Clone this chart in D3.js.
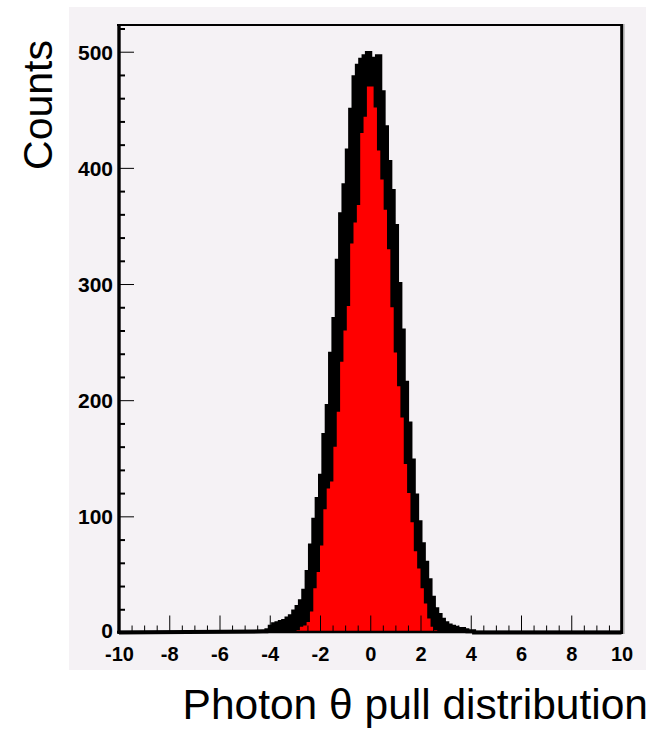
<!DOCTYPE html>
<html>
<head>
<meta charset="utf-8">
<script src="https://cdn.jsdelivr.net/npm/d3@7"></script>
<style>
  html, body { margin: 0; padding: 0; background: #ffffff; }
  svg { display: block; }
</style>
</head>
<body>
<svg id="chart" width="666" height="730"></svg>
<script>
// ---- data ----
const xDomain = [-10, 10];
const nBins = 150;                    // bin width 20/150
const firstBin = 43;                  // index of the first listed bin (x = -4.267)
// black histogram (all entries)
const allCounts = [
  1, 2, 5, 7, 8, 9, 10, 12, 14, 18, 22, 27, 36, 52, 75, 97,
  115, 135, 170, 195, 240, 270, 320, 360, 385, 415, 450, 478, 488, 493, 496, 499,
  494, 494, 496, 465, 435, 405, 380, 350, 300, 260, 215, 180, 148, 118, 95, 76,
  60, 45, 30, 20, 15, 11, 8, 6, 5, 4, 3, 3, 2, 1, 1, 0
];
// red histogram (selected entries), same bins
const selCounts = [
  0, 0, 0, 0, 0, 0, 0, 0, 0, 0, 2, 5, 6, 9, 18, 38,
  52, 75, 106, 124, 130, 160, 190, 233, 260, 281, 335, 353, 368, 430, 444, 470,
  470, 452, 415, 390, 364, 330, 280, 241, 212, 185, 145, 120, 95, 70, 55, 38,
  25, 12, 5, 2, 0, 0, 0, 0, 0, 0, 0, 0, 0, 0, 0, 0
];
const yTicks = [0, 100, 200, 300, 400, 500];
const xTicks = [-10, -8, -6, -4, -2, 0, 2, 4, 6, 8, 10];
const yTitle = "Counts";
const xTitle = "Photon \u03B8 pull distribution";

// ---- layout ----
const svg = d3.select("#chart");
const x = d3.scaleLinear().domain(xDomain).range([119, 621.5]);
const y = d3.scaleLinear().domain([0, 523]).range([632.5, 25]);
const binW = (xDomain[1] - xDomain[0]) / nBins;

// panel background
svg.append("rect").attr("x", 69).attr("y", 7).attr("width", 577).attr("height", 663)
  .attr("fill", "#f5f2f5");

function histPoints(counts) {
  const pts = [[xDomain[0], 0]];
  counts.forEach((c, i) => {
    const lo = xDomain[0] + (firstBin + i) * binW;
    pts.push([lo, c], [lo + binW, c]);
  });
  pts.push([xDomain[1], 0]);
  return pts;
}

const area = d3.area().x(d => x(d[0])).y0(y(0)).y1(d => y(d[1]));
const line = d3.line().x(d => x(d[0])).y(d => y(d[1]));

// black histogram: filled, thick outline
svg.append("path").datum(histPoints(allCounts))
  .attr("d", area).attr("fill", "#000");
svg.append("path").datum(histPoints(allCounts))
  .attr("d", line).attr("fill", "none").attr("stroke", "#000").attr("stroke-width", 4);

// red histogram on top
svg.append("path").datum(histPoints(selCounts))
  .attr("d", area).attr("fill", "#ff0000");

// ---- axes ----
const font = "'Liberation Sans', Arial, sans-serif";
const fmt = d => String(d);

// y axis: major ticks with labels (pointing inward)
const yAxis = svg.append("g").attr("transform", `translate(${x(-10)},0)`)
  .call(d3.axisLeft(y).tickValues(yTicks).tickSize(-15).tickPadding(21).tickFormat(fmt));
const yMinor = svg.append("g").attr("transform", `translate(${x(-10)},0)`)
  .call(d3.axisLeft(y).tickValues(d3.range(20, 523, 20).filter(v => v % 100 !== 0)).tickSize(-6).tickFormat(""));
yMinor.selectAll(".tick line").attr("stroke-width", 2);

// x axis
const xAxis = svg.append("g").attr("transform", `translate(0,${y(0)})`)
  .call(d3.axisBottom(x).tickValues(xTicks).tickSize(-17).tickPadding(27).tickFormat(fmt));
const xMinor = svg.append("g").attr("transform", `translate(0,${y(0)})`)
  .call(d3.axisBottom(x).tickValues(d3.range(-9.5, 10, 0.5).filter(v => v % 2 !== 0)).tickSize(-7).tickFormat(""));

[yAxis, yMinor, xAxis, xMinor].forEach(g => {
  g.select(".domain").remove();
  g.attr("font-size", null).attr("font-family", null);
  g.selectAll(".tick line").attr("stroke", "#000");
  g.selectAll("text").attr("font-family", font).attr("font-size", 21)
    .attr("font-weight", "bold").attr("fill", "#000");
});
xAxis.selectAll("text").attr("font-size", 20).attr("dy", "0.35em").attr("y", 21);
yAxis.selectAll("text").attr("x", -6).attr("dy", "0.36em");
yAxis.selectAll(".tick").filter(d => d === 0).select("text").attr("dy", "0.26em");

// frame
svg.append("line").attr("x1", 119).attr("x2", 119).attr("y1", 24).attr("y2", 634).attr("stroke", "#000").attr("stroke-width", 3.4);
svg.append("line").attr("x1", 117).attr("x2", 623).attr("y1", 25).attr("y2", 25).attr("stroke", "#000").attr("stroke-width", 2);
svg.append("line").attr("x1", 621.7).attr("x2", 621.7).attr("y1", 24).attr("y2", 634).attr("stroke", "#000").attr("stroke-width", 3);
svg.append("line").attr("x1", 623.9).attr("x2", 623.9).attr("y1", 24).attr("y2", 634).attr("stroke", "#9a9a9a").attr("stroke-width", 1.2);
svg.append("line").attr("x1", 117).attr("x2", 623).attr("y1", 632).attr("y2", 632).attr("stroke", "#000").attr("stroke-width", 2.6);

// titles
svg.append("text").attr("transform", "translate(52,105) rotate(-90)")
  .attr("text-anchor", "middle").attr("font-family", font).attr("font-size", 41)
  .attr("fill", "#000").text(yTitle);
svg.append("text").attr("x", 648).attr("y", 719)
  .attr("text-anchor", "end").attr("font-family", font).attr("font-size", 42.5)
  .attr("fill", "#000").text(xTitle);
</script>
</body>
</html>
